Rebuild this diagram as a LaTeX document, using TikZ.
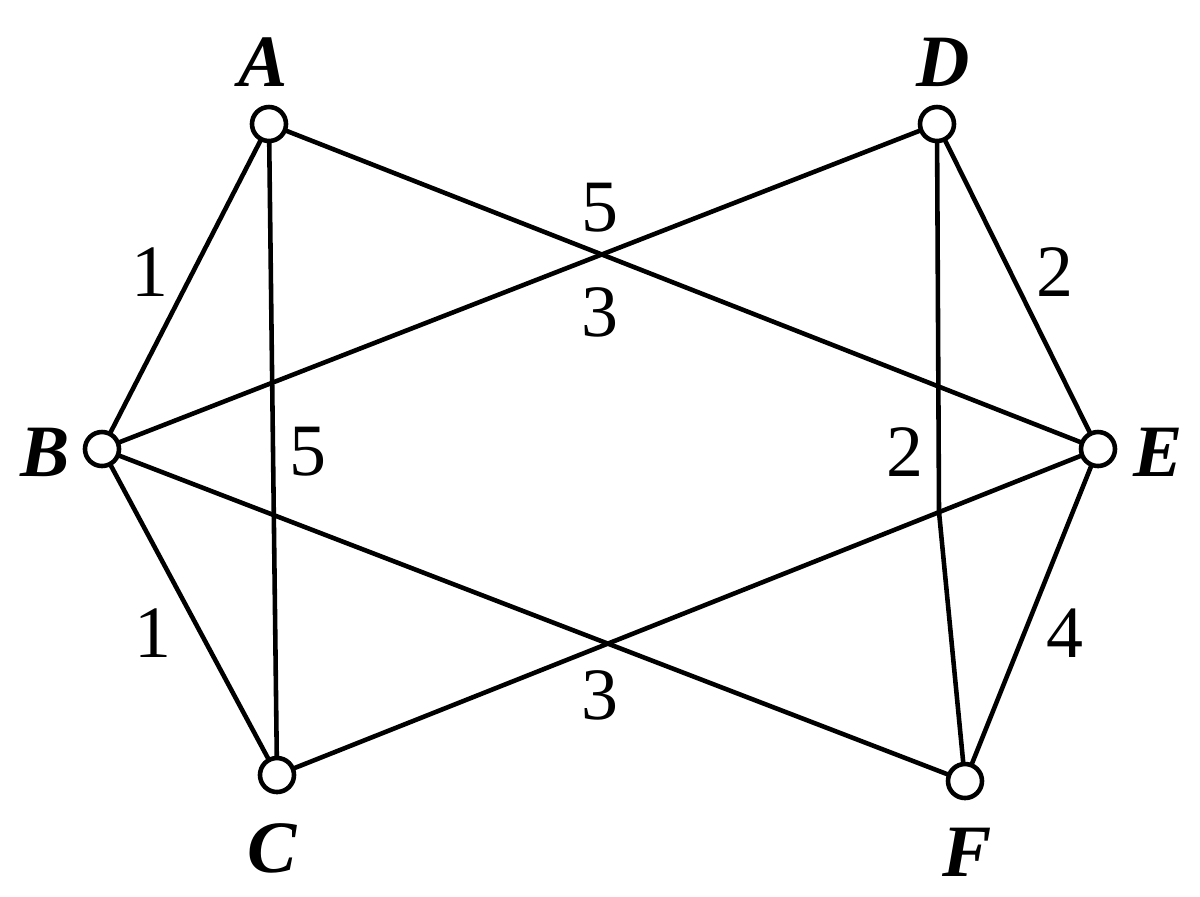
\documentclass[tikz,border=0pt]{standalone}
\usepackage{fontspec}
\setmainfont{Liberation Serif}
\usetikzlibrary{positioning}

\begin{document}
\begin{tikzpicture}[x=0.01cm,y=-0.01cm,
  vert/.style={circle,draw,line width=1.3pt,fill=white,inner sep=0pt,minimum size=0.34cm},
  vname/.style={font=\fontsize{21}{25}\selectfont\bfseries\itshape},
  wt/.style={font=\fontsize{21}{25}\selectfont},
  edge/.style={line width=1.3pt}]
  \useasboundingbox (0,0) rectangle (1200,896);
  % vertices
  \coordinate (A) at (269,124);
  \coordinate (D) at (937,124);
  \coordinate (B) at (102,449);
  \coordinate (E) at (1098,449);
  \coordinate (C) at (277,775);
  \coordinate (F) at (965,781);
  \coordinate (bend) at (939,512);
  % edges
  \draw[edge] (A) -- (B);
  \draw[edge] (A) -- (C);
  \draw[edge] (A) -- (E);
  \draw[edge] (D) -- (B);
  \draw[edge] (D) -- (E);
  \draw[edge] (D) -- (bend) -- (F);
  \draw[edge] (B) -- (C);
  \draw[edge] (B) -- (F);
  \draw[edge] (E) -- (C);
  \draw[edge] (E) -- (F);
  \foreach \v in {A,B,C,D,E,F}
    \node[vert] (n\v) at (\v) {};
  % vertex names
  \node[vname] (lA) at (263,62)  {A};
  \node[vname] (lD) at (943,62)  {D};
  \node[vname] (lB) at (45,452)  {B};
  \node[vname] (lE) at (1158,452){E};
  \node[vname] (lC) at (272,848) {C};
  \node[vname] (lF) at (967,852) {F};
  % weights
  \node[wt] (wAB) at (150,272)  {1};
  \node[wt] (wAE) at (600,208)  {5};
  \node[wt] (wDB) at (600,312)  {3};
  \node[wt] (wDE) at (1055,272) {2};
  \node[wt] (wAC) at (308,452)  {5};
  \node[wt] (wDF) at (905,452)  {2};
  \node[wt] (wBC) at (153,633)  {1};
  \node[wt] (wEC) at (600,695)  {3};
  \node[wt] (wEF) at (1065,633) {4};
\end{tikzpicture}
\end{document}
